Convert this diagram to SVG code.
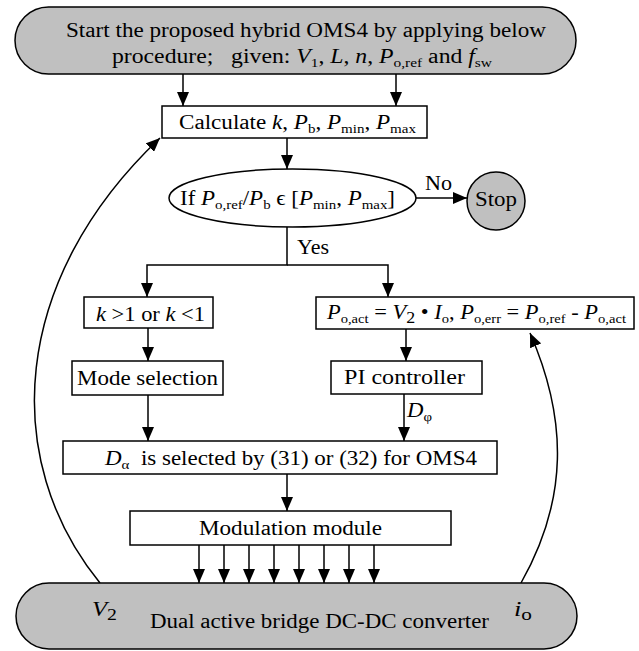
<svg xmlns="http://www.w3.org/2000/svg" width="639" height="651" viewBox="0 0 639 651" font-family="Liberation Serif, DejaVu Serif, serif">
<style>
.n{fill:#fff;stroke:#000;stroke-width:1.5}
.g{fill:#c0c0c0;stroke:#000;stroke-width:1.5}
.c{fill:none;stroke:#000;stroke-width:1.5;marker-end:url(#ah)}
text{font-family:'Liberation Serif','DejaVu Serif',serif;font-size:20px;fill:#000}
.i{font-style:italic}
.s{font-size:13px}
.s2{font-size:16px}
</style>
<defs>
<marker id="ah" viewBox="0 0 14 12" refX="14" refY="6" markerWidth="14" markerHeight="12" markerUnits="userSpaceOnUse" orient="auto">
<path d="M0,0 L14,6 L0,12 z" fill="#000"/>
</marker>
</defs>
<g id="connectors">
<path class="c" d="M183,74 V106"/>
<path class="c" d="M396,74 V106"/>
<path class="c" d="M287,138 V169"/>
<path class="c" d="M416,198 H467"/>
<path class="c" d="M287,227 V265 H147 V297"/>
<path class="c" d="M287,265 H388 V297"/>
<path class="c" d="M148,328 V361"/>
<path class="c" d="M406,329 V361"/>
<path class="c" d="M148,395 V441"/>
<path class="c" d="M404,394 V441"/>
<path class="c" d="M287,474 V511"/>
<path class="c" d="M199,545 V583"/>
<path class="c" d="M224,545 V583"/>
<path class="c" d="M249,545 V583"/>
<path class="c" d="M274,545 V583"/>
<path class="c" d="M299,545 V583"/>
<path class="c" d="M324,545 V583"/>
<path class="c" d="M349,545 V583"/>
<path class="c" d="M374,545 V583"/>
<path class="c" d="M100,583 C0,460 10,280 160,138"/>
<path class="c" d="M521,583 C568,500 568,420 530,333"/>
<text x="425" y="190" textLength="27" lengthAdjust="spacingAndGlyphs">No</text>
<text x="297" y="254" textLength="32" lengthAdjust="spacingAndGlyphs">Yes</text>
<text x="407" y="417" textLength="25" lengthAdjust="spacingAndGlyphs"><tspan class="i">D</tspan><tspan class="s" dy="4">φ</tspan></text>
</g>
<g id="start">
<rect class="g" x="15" y="7" width="561" height="67" rx="33.5"/>
<text x="66" y="37" textLength="480" lengthAdjust="spacingAndGlyphs">Start the proposed hybrid OMS4 by applying below</text>
<text x="112" y="63" textLength="380" lengthAdjust="spacingAndGlyphs">procedure;&#160;&#160; given: <tspan class="i">V</tspan><tspan class="s" dy="4">1</tspan><tspan dy="-4">, </tspan><tspan class="i">L</tspan>, <tspan class="i">n</tspan>, <tspan class="i">P</tspan><tspan class="s" dy="4">o,ref</tspan><tspan dy="-4"> and </tspan><tspan class="i">f</tspan><tspan class="s" dy="4">sw</tspan></text>
</g>
<g id="calculate">
<rect class="n" x="162" y="106" width="265" height="32"/>
<text x="179" y="129" textLength="237" lengthAdjust="spacingAndGlyphs">Calculate <tspan class="i">k</tspan>, <tspan class="i">P</tspan><tspan class="s" dy="4">b</tspan><tspan dy="-4">, </tspan><tspan class="i">P</tspan><tspan class="s" dy="4">min</tspan><tspan dy="-4">, </tspan><tspan class="i">P</tspan><tspan class="s" dy="4">max</tspan></text>
</g>
<g id="decision">
<ellipse class="n" cx="292.5" cy="198" rx="123.5" ry="29"/>
<text x="180" y="205" textLength="215" lengthAdjust="spacingAndGlyphs">If <tspan class="i">P</tspan><tspan class="s" dy="4">o,ref</tspan><tspan dy="-4">/</tspan><tspan class="i">P</tspan><tspan class="s" dy="4">b</tspan><tspan dy="-4"> ϵ [</tspan><tspan class="i">P</tspan><tspan class="s" dy="4">min</tspan><tspan dy="-4">, </tspan><tspan class="i">P</tspan><tspan class="s" dy="4">max</tspan><tspan dy="-4">]</tspan></text>
</g>
<g id="stop">
<circle class="g" cx="496" cy="201" r="29"/>
<text x="475" y="206" textLength="42" lengthAdjust="spacingAndGlyphs">Stop</text>
</g>
<g id="k-condition">
<rect class="n" x="84" y="297" width="129" height="31"/>
<text x="96" y="321" textLength="109" lengthAdjust="spacingAndGlyphs"><tspan class="i">k</tspan> &gt;1 or <tspan class="i">k</tspan> &lt;1</text>
</g>
<g id="power-calc">
<rect class="n" x="316" y="297" width="318" height="32"/>
<text x="327" y="319" textLength="299" lengthAdjust="spacingAndGlyphs"><tspan class="i">P</tspan><tspan class="s" dy="4">o,act</tspan><tspan dy="-4"> = </tspan><tspan class="i">V</tspan><tspan class="s2" dy="4">2</tspan><tspan dy="-4"> • </tspan><tspan class="i">I</tspan><tspan class="s" dy="4">o</tspan><tspan dy="-4">, </tspan><tspan class="i">P</tspan><tspan class="s" dy="4">o,err</tspan><tspan dy="-4"> = </tspan><tspan class="i">P</tspan><tspan class="s" dy="4">o,ref</tspan><tspan dy="-4"> - </tspan><tspan class="i">P</tspan><tspan class="s" dy="4">o,act</tspan></text>
</g>
<g id="mode-selection">
<rect class="n" x="72" y="361" width="151" height="34"/>
<text x="77" y="385" textLength="141" lengthAdjust="spacingAndGlyphs">Mode selection</text>
</g>
<g id="pi-controller">
<rect class="n" x="331" y="361" width="151" height="33"/>
<text x="344" y="384" textLength="121" lengthAdjust="spacingAndGlyphs">PI controller</text>
</g>
<g id="d-alpha">
<rect class="n" x="63" y="441" width="434" height="33"/>
<text x="105" y="465" textLength="372" lengthAdjust="spacingAndGlyphs"><tspan class="i">D</tspan><tspan class="s" dy="4">α</tspan><tspan dy="-4">&#160; is selected by (31) or (32) for OMS4</tspan></text>
</g>
<g id="modulation">
<rect class="n" x="130" y="511" width="321" height="34"/>
<text x="199" y="535" textLength="183" lengthAdjust="spacingAndGlyphs">Modulation module</text>
</g>
<g id="converter">
<rect class="g" x="16" y="583" width="561" height="66" rx="33"/>
<text x="92" y="616" textLength="25" lengthAdjust="spacingAndGlyphs"><tspan class="i">V</tspan><tspan class="s2" dy="4">2</tspan></text>
<text x="150" y="628" textLength="339" lengthAdjust="spacingAndGlyphs">Dual active bridge DC-DC converter</text>
<text x="514" y="616" textLength="18" lengthAdjust="spacingAndGlyphs"><tspan class="i">i</tspan><tspan class="s2" dy="4">o</tspan></text>
</g>
</svg>
